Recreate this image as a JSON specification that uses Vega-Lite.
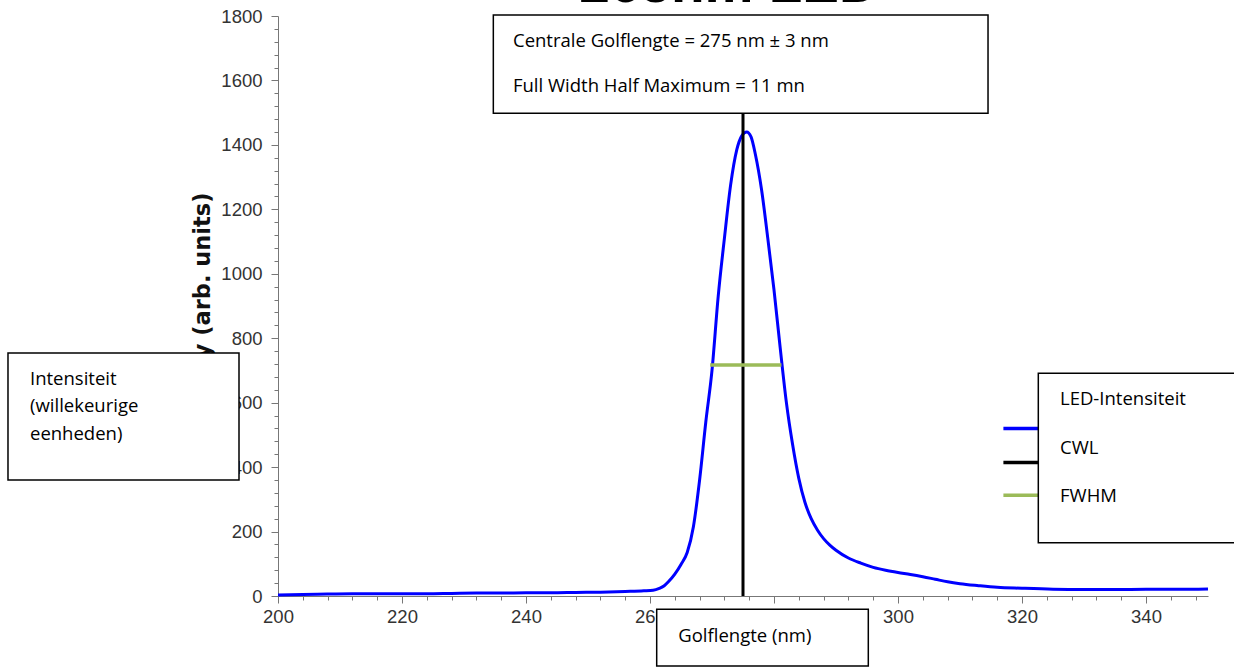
{
  "$schema": "https://vega.github.io/schema/vega-lite/v6.json",
  "autosize": "none",
  "width": 930,
  "height": 580,
  "padding": {"left": 278, "top": 16, "right": 26, "bottom": 72},
  "background": "white",
  "config": {
    "view": {"stroke": null},
    "axis": {"grid": false, "domainColor": "#777", "tickColor": "#777", "labelFont": "Liberation Sans", "labelColor": "#333", "labelFontSize": 18.5, "labelFlush": false}
  },
  "layer": [
    {
      "data": {"values": [
        {"wl": 200, "v": 3}, {"wl": 204, "v": 5}, {"wl": 208, "v": 6}, {"wl": 212, "v": 7}, {"wl": 216, "v": 7},
        {"wl": 220, "v": 7}, {"wl": 224, "v": 7}, {"wl": 228, "v": 8}, {"wl": 232, "v": 9}, {"wl": 236, "v": 9},
        {"wl": 240, "v": 10}, {"wl": 244, "v": 10}, {"wl": 248, "v": 11}, {"wl": 252, "v": 12}, {"wl": 256, "v": 14},
        {"wl": 259, "v": 16}, {"wl": 260.5, "v": 18}, {"wl": 261.5, "v": 24}, {"wl": 262.3, "v": 32}, {"wl": 263, "v": 45},
        {"wl": 264, "v": 68}, {"wl": 265, "v": 98}, {"wl": 266, "v": 135}, {"wl": 267, "v": 215}, {"wl": 268, "v": 360},
        {"wl": 269, "v": 540}, {"wl": 270, "v": 700}, {"wl": 271, "v": 930}, {"wl": 272, "v": 1110}, {"wl": 273, "v": 1275},
        {"wl": 274, "v": 1385}, {"wl": 274.8, "v": 1428}, {"wl": 275.6, "v": 1440}, {"wl": 276.3, "v": 1425}, {"wl": 277, "v": 1370},
        {"wl": 278, "v": 1260}, {"wl": 279, "v": 1110}, {"wl": 280, "v": 950}, {"wl": 281, "v": 770}, {"wl": 282, "v": 600},
        {"wl": 283, "v": 470}, {"wl": 284, "v": 365}, {"wl": 285, "v": 290}, {"wl": 286, "v": 240}, {"wl": 287, "v": 205},
        {"wl": 288, "v": 178}, {"wl": 289, "v": 158}, {"wl": 290, "v": 142}, {"wl": 292, "v": 118}, {"wl": 294, "v": 102},
        {"wl": 296, "v": 89}, {"wl": 298, "v": 80}, {"wl": 300, "v": 73}, {"wl": 302, "v": 67}, {"wl": 304, "v": 60},
        {"wl": 306, "v": 52}, {"wl": 308, "v": 44}, {"wl": 310, "v": 38}, {"wl": 313, "v": 32}, {"wl": 316, "v": 27},
        {"wl": 320, "v": 24}, {"wl": 325, "v": 21}, {"wl": 330, "v": 20}, {"wl": 335, "v": 20}, {"wl": 340, "v": 21},
        {"wl": 345, "v": 21}, {"wl": 350, "v": 22}
      ]},
      "mark": {"type": "line", "color": "#0000FF", "strokeWidth": 3, "interpolate": "monotone"},
      "encoding": {
        "x": {"field": "wl", "type": "quantitative",
          "scale": {"domain": [200, 350], "nice": false, "zero": false},
          "axis": {"title": null, "format": "d", "labelOverlap": false, "labelBound": false, "labelFlush": false,
            "values": [200,204,208,212,216,220,224,228,232,236,240,244,248,252,256,260,264,268,272,276,280,284,288,292,296,300,304,308,312,316,320,324,328,332,336,340,344,348],
            "labelExpr": "datum.value % 20 === 0 ? datum.label : ''",
            "tickSize": {"condition": {"test": "datum.value % 20 === 0", "value": 7}, "value": 4},
            "labelPadding": 4}},
        "y": {"field": "v", "type": "quantitative",
          "scale": {"domain": [0, 1800], "nice": false, "zero": true},
          "axis": {"title": "Intensity (arb. units)", "titleFont": "DejaVu Sans", "titleFontSize": 22.5, "titleFontWeight": "bold", "titleColor": "#111", "titlePadding": 6, "titleY": 308, "format": "d", "labelOverlap": false, "labelBound": false, "labelFlush": false,
            "values": [0,40,80,120,160,200,240,280,320,360,400,440,480,520,560,600,640,680,720,760,800,840,880,920,960,1000,1040,1080,1120,1160,1200,1240,1280,1320,1360,1400,1440,1480,1520,1560,1600,1640,1680,1720,1760,1800],
            "labelExpr": "datum.value % 200 === 0 ? datum.label : ''",
            "tickSize": {"condition": {"test": "datum.value % 200 === 0", "value": 7}, "value": 4},
            "labelPadding": 9}}
      }
    },
    {
      "data": {"values": [{}]},
      "mark": {"type": "rule", "color": "black", "strokeWidth": 3},
      "encoding": {
        "x": {"datum": 275, "type": "quantitative", "axis": {"title": null, "format": "d", "labelOverlap": false, "labelBound": false, "labelFlush": false, "values": [200,204,208,212,216,220,224,228,232,236,240,244,248,252,256,260,264,268,272,276,280,284,288,292,296,300,304,308,312,316,320,324,328,332,336,340,344,348], "labelExpr": "datum.value % 20 === 0 ? datum.label : ''", "tickSize": {"condition": {"test": "datum.value % 20 === 0", "value": 7}, "value": 4}, "labelPadding": 4}},
        "y": {"datum": 0, "type": "quantitative", "axis": {"title": "Intensity (arb. units)", "titleFont": "DejaVu Sans", "titleFontSize": 22.5, "titleFontWeight": "bold", "titleColor": "#111", "titlePadding": 6, "titleY": 308, "format": "d", "labelOverlap": false, "labelBound": false, "labelFlush": false, "values": [0,40,80,120,160,200,240,280,320,360,400,440,480,520,560,600,640,680,720,760,800,840,880,920,960,1000,1040,1080,1120,1160,1200,1240,1280,1320,1360,1400,1440,1480,1520,1560,1600,1640,1680,1720,1760,1800], "labelExpr": "datum.value % 200 === 0 ? datum.label : ''", "tickSize": {"condition": {"test": "datum.value % 200 === 0", "value": 7}, "value": 4}, "labelPadding": 9}},
        "y2": {"datum": 1790}
      }
    },
    {
      "data": {"values": [{}]},
      "mark": {"type": "rule", "color": "#9BBB59", "strokeWidth": 3.5},
      "encoding": {
        "x": {"datum": 269.7, "type": "quantitative", "axis": {"title": null, "format": "d", "labelOverlap": false, "labelBound": false, "labelFlush": false, "values": [200,204,208,212,216,220,224,228,232,236,240,244,248,252,256,260,264,268,272,276,280,284,288,292,296,300,304,308,312,316,320,324,328,332,336,340,344,348], "labelExpr": "datum.value % 20 === 0 ? datum.label : ''", "tickSize": {"condition": {"test": "datum.value % 20 === 0", "value": 7}, "value": 4}, "labelPadding": 4}},
        "x2": {"datum": 281.2},
        "y": {"datum": 717, "type": "quantitative", "axis": {"title": "Intensity (arb. units)", "titleFont": "DejaVu Sans", "titleFontSize": 22.5, "titleFontWeight": "bold", "titleColor": "#111", "titlePadding": 6, "titleY": 308, "format": "d", "labelOverlap": false, "labelBound": false, "labelFlush": false, "values": [0,40,80,120,160,200,240,280,320,360,400,440,480,520,560,600,640,680,720,760,800,840,880,920,960,1000,1040,1080,1120,1160,1200,1240,1280,1320,1360,1400,1440,1480,1520,1560,1600,1640,1680,1720,1760,1800], "labelExpr": "datum.value % 200 === 0 ? datum.label : ''", "tickSize": {"condition": {"test": "datum.value % 200 === 0", "value": 7}, "value": 4}, "labelPadding": 9}}
      }
    },
    {
      "data": {"values": [{"c": "#0000FF", "lv": 520}, {"c": "black", "lv": 414}, {"c": "#9BBB59", "lv": 313}]},
      "mark": {"type": "rule", "strokeWidth": 3.5},
      "encoding": {
        "x": {"datum": 317.0, "type": "quantitative", "axis": {"title": null, "format": "d", "labelOverlap": false, "labelBound": false, "labelFlush": false, "values": [200,204,208,212,216,220,224,228,232,236,240,244,248,252,256,260,264,268,272,276,280,284,288,292,296,300,304,308,312,316,320,324,328,332,336,340,344,348], "labelExpr": "datum.value % 20 === 0 ? datum.label : ''", "tickSize": {"condition": {"test": "datum.value % 20 === 0", "value": 7}, "value": 4}, "labelPadding": 4}},
        "x2": {"datum": 322.6},
        "y": {"field": "lv", "type": "quantitative", "axis": {"title": "Intensity (arb. units)", "titleFont": "DejaVu Sans", "titleFontSize": 22.5, "titleFontWeight": "bold", "titleColor": "#111", "titlePadding": 6, "titleY": 308, "format": "d", "labelOverlap": false, "labelBound": false, "labelFlush": false, "values": [0,40,80,120,160,200,240,280,320,360,400,440,480,520,560,600,640,680,720,760,800,840,880,920,960,1000,1040,1080,1120,1160,1200,1240,1280,1320,1360,1400,1440,1480,1520,1560,1600,1640,1680,1720,1760,1800], "labelExpr": "datum.value % 200 === 0 ? datum.label : ''", "tickSize": {"condition": {"test": "datum.value % 200 === 0", "value": 7}, "value": 4}, "labelPadding": 9}},
        "color": {"field": "c", "type": "nominal", "scale": null}
      }
    },
    {
      "data": {"values": [
        {"xa": 234.73, "xb": 314.52, "ya": 1803, "yb": 1498},
        {"xa": 156.45, "xb": 193.71, "ya": 754, "yb": 360},
        {"xa": 322.63, "xb": 356, "ya": 691, "yb": 165.4},
        {"xa": 261.08, "xb": 295.21, "ya": -41.3, "yb": -217}
      ]},
      "mark": {"type": "rect", "fill": "white", "stroke": "black", "strokeWidth": 1.5},
      "encoding": {
        "x": {"field": "xa", "type": "quantitative", "axis": {"title": null, "format": "d", "labelOverlap": false, "labelBound": false, "labelFlush": false, "values": [200,204,208,212,216,220,224,228,232,236,240,244,248,252,256,260,264,268,272,276,280,284,288,292,296,300,304,308,312,316,320,324,328,332,336,340,344,348], "labelExpr": "datum.value % 20 === 0 ? datum.label : ''", "tickSize": {"condition": {"test": "datum.value % 20 === 0", "value": 7}, "value": 4}, "labelPadding": 4}},
        "x2": {"field": "xb"},
        "y": {"field": "ya", "type": "quantitative", "axis": {"title": "Intensity (arb. units)", "titleFont": "DejaVu Sans", "titleFontSize": 22.5, "titleFontWeight": "bold", "titleColor": "#111", "titlePadding": 6, "titleY": 308, "format": "d", "labelOverlap": false, "labelBound": false, "labelFlush": false, "values": [0,40,80,120,160,200,240,280,320,360,400,440,480,520,560,600,640,680,720,760,800,840,880,920,960,1000,1040,1080,1120,1160,1200,1240,1280,1320,1360,1400,1440,1480,1520,1560,1600,1640,1680,1720,1760,1800], "labelExpr": "datum.value % 200 === 0 ? datum.label : ''", "tickSize": {"condition": {"test": "datum.value % 200 === 0", "value": 7}, "value": 4}, "labelPadding": 9}},
        "y2": {"field": "yb"}
      }
    },
    {
      "data": {"values": [
        {"t": "Centrale Golflengte = 275 nm ± 3 nm", "px": 237.9, "py": 1704},
        {"t": "Full Width Half Maximum = 11 mn", "px": 237.9, "py": 1564},
        {"t": "Intensiteit", "px": 160.0, "py": 655},
        {"t": "(willekeurige", "px": 160.0, "py": 571},
        {"t": "eenheden)", "px": 160.0, "py": 484},
        {"t": "LED-Intensiteit", "px": 326.13, "py": 593},
        {"t": "CWL", "px": 326.13, "py": 441},
        {"t": "FWHM", "px": 326.13, "py": 293},
        {"t": "Golflengte (nm)", "px": 264.56, "py": -142}
      ]},
      "mark": {"type": "text", "font": "Open Sans", "fontSize": 18.5, "color": "black", "align": "left", "baseline": "alphabetic"},
      "encoding": {
        "x": {"field": "px", "type": "quantitative", "axis": {"title": null, "format": "d", "labelOverlap": false, "labelBound": false, "labelFlush": false, "values": [200,204,208,212,216,220,224,228,232,236,240,244,248,252,256,260,264,268,272,276,280,284,288,292,296,300,304,308,312,316,320,324,328,332,336,340,344,348], "labelExpr": "datum.value % 20 === 0 ? datum.label : ''", "tickSize": {"condition": {"test": "datum.value % 20 === 0", "value": 7}, "value": 4}, "labelPadding": 4}},
        "y": {"field": "py", "type": "quantitative", "axis": {"title": "Intensity (arb. units)", "titleFont": "DejaVu Sans", "titleFontSize": 22.5, "titleFontWeight": "bold", "titleColor": "#111", "titlePadding": 6, "titleY": 308, "format": "d", "labelOverlap": false, "labelBound": false, "labelFlush": false, "values": [0,40,80,120,160,200,240,280,320,360,400,440,480,520,560,600,640,680,720,760,800,840,880,920,960,1000,1040,1080,1120,1160,1200,1240,1280,1320,1360,1400,1440,1480,1520,1560,1600,1640,1680,1720,1760,1800], "labelExpr": "datum.value % 200 === 0 ? datum.label : ''", "tickSize": {"condition": {"test": "datum.value % 200 === 0", "value": 7}, "value": 4}, "labelPadding": 9}},
        "text": {"field": "t"}
      }
    },
    {
      "data": {"values": [{"t": "265nm LED", "px": 272.74, "py": 1843}]},
      "mark": {"type": "text", "font": "Liberation Sans", "fontSize": 55, "fontWeight": "bold", "color": "black", "align": "center", "baseline": "alphabetic"},
      "encoding": {
        "x": {"field": "px", "type": "quantitative", "axis": {"title": null, "format": "d", "labelOverlap": false, "labelBound": false, "labelFlush": false, "values": [200,204,208,212,216,220,224,228,232,236,240,244,248,252,256,260,264,268,272,276,280,284,288,292,296,300,304,308,312,316,320,324,328,332,336,340,344,348], "labelExpr": "datum.value % 20 === 0 ? datum.label : ''", "tickSize": {"condition": {"test": "datum.value % 20 === 0", "value": 7}, "value": 4}, "labelPadding": 4}},
        "y": {"field": "py", "type": "quantitative", "axis": {"title": "Intensity (arb. units)", "titleFont": "DejaVu Sans", "titleFontSize": 22.5, "titleFontWeight": "bold", "titleColor": "#111", "titlePadding": 6, "titleY": 308, "format": "d", "labelOverlap": false, "labelBound": false, "labelFlush": false, "values": [0,40,80,120,160,200,240,280,320,360,400,440,480,520,560,600,640,680,720,760,800,840,880,920,960,1000,1040,1080,1120,1160,1200,1240,1280,1320,1360,1400,1440,1480,1520,1560,1600,1640,1680,1720,1760,1800], "labelExpr": "datum.value % 200 === 0 ? datum.label : ''", "tickSize": {"condition": {"test": "datum.value % 200 === 0", "value": 7}, "value": 4}, "labelPadding": 9}},
        "text": {"field": "t"}
      }
    }
  ]
}
